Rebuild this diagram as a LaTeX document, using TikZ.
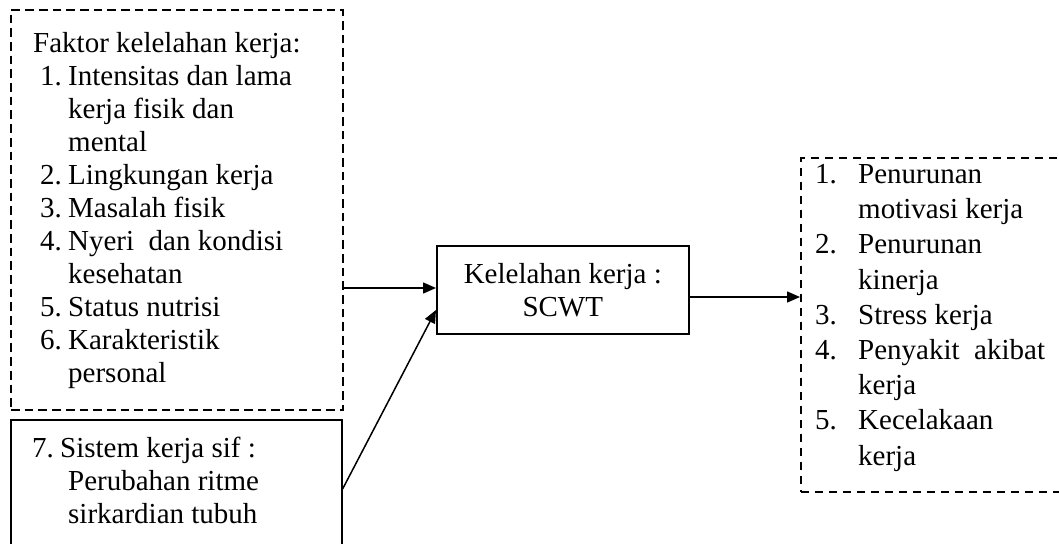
\documentclass[tikz,border=0pt]{standalone}
\usepackage{fontspec}
\setmainfont{Liberation Serif}
\usetikzlibrary{arrows.meta,calc}
\newcommand{\bodyfont}{\fontsize{29pt}{33pt}\selectfont}
\newcommand{\rightfont}{\fontsize{29pt}{35.2pt}\selectfont}
\newcommand{\numbox}[2]{\makebox[#1][l]{#2}}
\begin{document}
\begin{tikzpicture}[x=1pt,y=-1pt,
  sbox/.style={draw=black,line width=1.6pt,inner sep=0pt,anchor=north west},
  dboxl/.style={draw=black,line width=2pt,dash pattern=on 8.7pt off 5pt,inner sep=0pt,anchor=north west},
  dboxr/.style={draw=black,line width=1.6pt,dash pattern=on 8pt off 6pt,inner sep=0pt,anchor=north west},
  txt/.style={inner sep=0pt,anchor=base west,align=left,font=\bodyfont},
  arr/.style={line width=1.5pt,-{Triangle[length=13pt,width=11pt]}}]
\clip (0,0) rectangle (1059,543);
\fill[white] (0,0) rectangle (1059,543);
% boxes
\node[dboxl,minimum width=332pt,minimum height=400pt] (lbox) at (10,9) {};
\node[sbox,minimum width=331pt,minimum height=150pt] (bbox) at (10,419) {};
\node[sbox,minimum width=252pt,minimum height=88pt,align=center,font=\bodyfont] (cbox) at (436,245) {Kelelahan kerja :\\SCWT};
\node[dboxr,minimum width=290pt,minimum height=334pt] (rbox) at (800,157) {};
% texts (anchored at the baseline of the last line)
\node[txt] (ltext) at (33,382) {Faktor kelelahan kerja:\\
\hspace*{7pt}\numbox{28pt}{1.}Intensitas dan lama\\
\hspace*{35pt}kerja fisik dan\\
\hspace*{35pt}mental\\
\hspace*{7pt}\numbox{28pt}{2.}Lingkungan kerja\\
\hspace*{7pt}\numbox{28pt}{3.}Masalah fisik\\
\hspace*{7pt}\numbox{28pt}{4.}Nyeri\ \ dan kondisi\\
\hspace*{35pt}kesehatan\\
\hspace*{7pt}\numbox{28pt}{5.}Status nutrisi\\
\hspace*{7pt}\numbox{28pt}{6.}Karakteristik\\
\hspace*{35pt}personal};
\node[txt] (btext) at (32,523) {\numbox{28pt}{7.}Sistem kerja sif :\\
\hspace*{36pt}Perubahan ritme\\
\hspace*{36pt}sirkardian tubuh};
\node[txt,font=\rightfont] (rtext) at (815,465) {\numbox{43pt}{1.}Penurunan\\
\hspace*{43pt}motivasi kerja\\
\numbox{43pt}{2.}Penurunan\\
\hspace*{43pt}kinerja\\
\numbox{43pt}{3.}Stress kerja\\
\numbox{43pt}{4.}Penyakit\ \ akibat\\
\hspace*{43pt}kerja\\
\numbox{43pt}{5.}Kecelakaan\\
\hspace*{43pt}kerja};
% arrows
\draw[arr] ($(lbox.north east)+(0,279)$) -- ($(cbox.north west)+(0,43)$);
\draw[arr] ($(bbox.north east)+(0,70)$) -- ($(cbox.north west)+(0,65)$);
\draw[arr] ($(cbox.north east)+(0,52)$) -- ($(rbox.north west)+(0,140)$);
\end{tikzpicture}
\end{document}
